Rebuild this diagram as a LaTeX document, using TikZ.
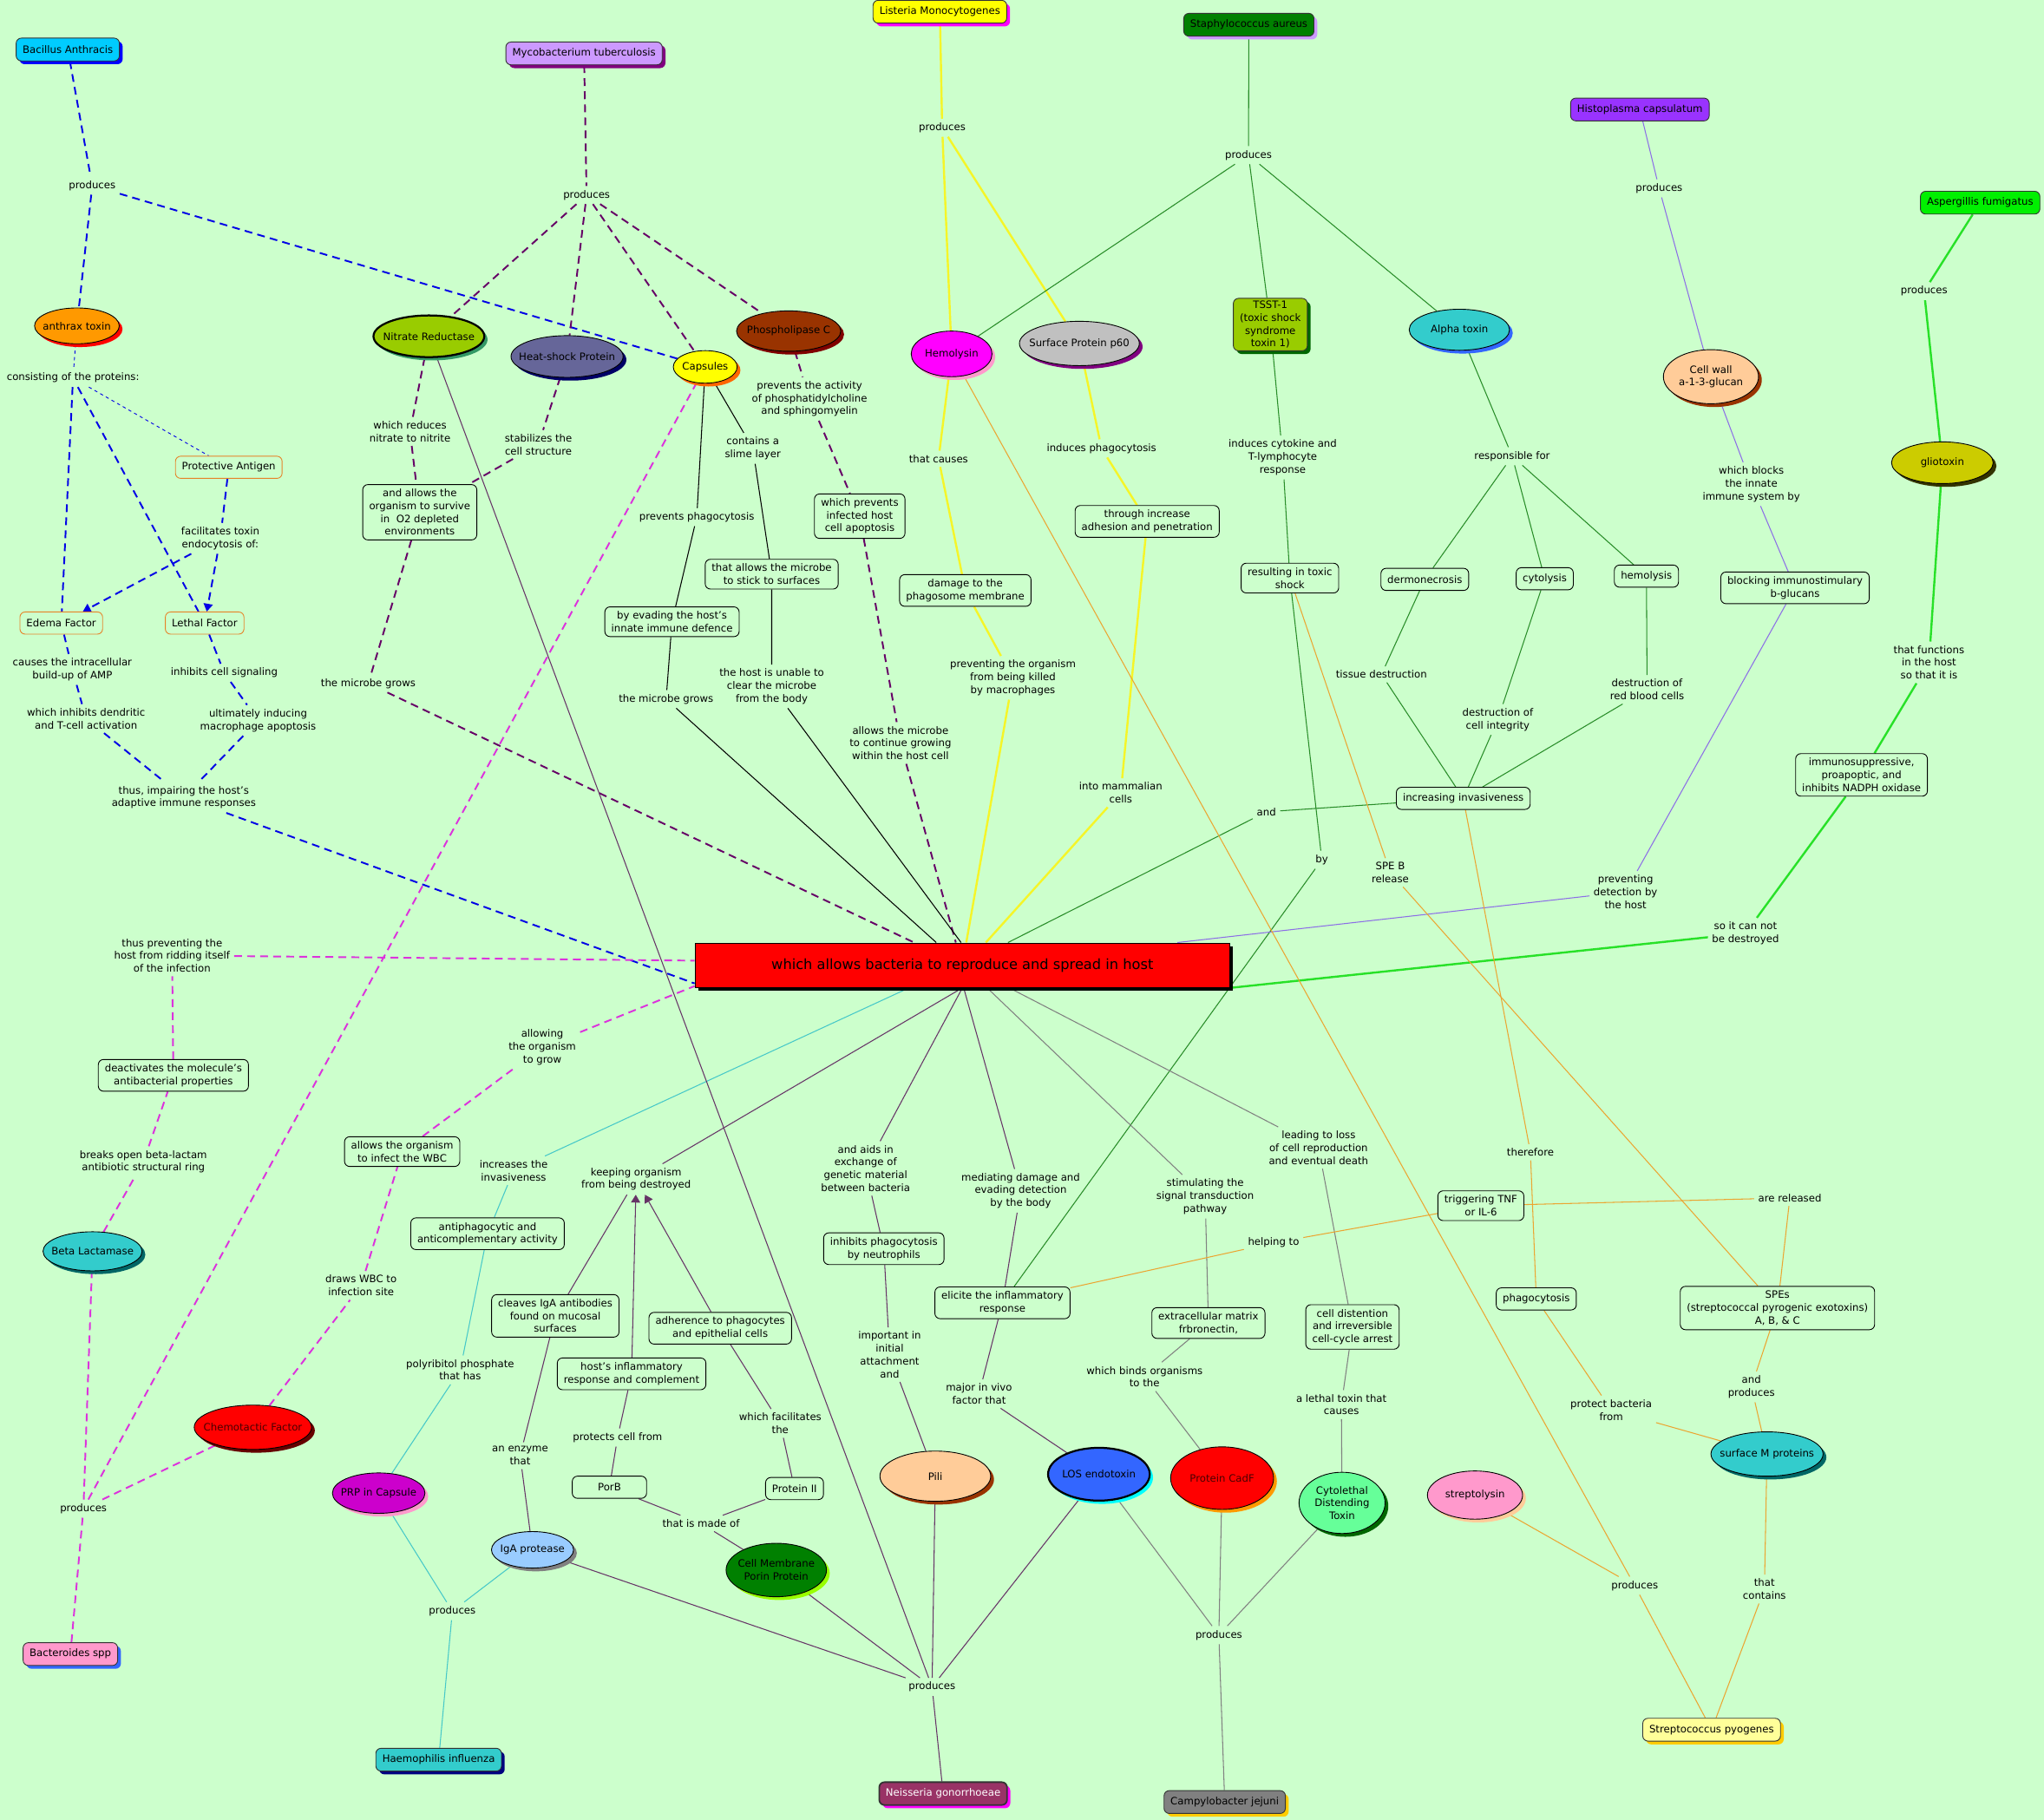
\documentclass[tikz,border=0pt]{standalone}
\usepackage{fontspec}
\setmainfont{DejaVu Sans}
\usetikzlibrary{shapes.geometric, shadows, arrows.meta, calc}

\definecolor{bg}{RGB}{204,255,204}
\definecolor{bacline}{RGB}{0,0,230}
\definecolor{mycline}{RGB}{102,0,102}
\definecolor{bctline}{RGB}{220,50,220}
\definecolor{lisline}{RGB}{245,245,40}
\definecolor{staline}{RGB}{40,140,40}
\definecolor{hisline}{RGB}{140,110,230}
\definecolor{aspline}{RGB}{40,225,40}
\definecolor{strline}{RGB}{235,165,50}
\definecolor{haeline}{RGB}{70,200,200}
\definecolor{neiline}{RGB}{102,51,102}
\definecolor{camline}{RGB}{128,128,128}
\definecolor{orangeedge}{RGB}{230,130,40}
\definecolor{sky}{HTML}{00CCFF}
\definecolor{pureblue}{HTML}{0000FF}
\definecolor{purered}{HTML}{FF0000}
\definecolor{pureyellow}{HTML}{FFFF00}
\definecolor{puremagenta}{HTML}{FF00FF}
\definecolor{purecyan}{HTML}{00FFFF}
\definecolor{puregray}{HTML}{808080}
\definecolor{lilac}{HTML}{CC99FF}
\definecolor{plum}{HTML}{800080}
\definecolor{dkgreen}{HTML}{008000}
\definecolor{violettwo}{HTML}{9933FF}
\definecolor{limetwo}{HTML}{00F000}
\definecolor{pinktwo}{HTML}{FF99CC}
\definecolor{royal}{HTML}{3366FF}
\definecolor{tealtwo}{HTML}{33CCCC}
\definecolor{navy}{HTML}{000080}
\definecolor{wine}{HTML}{993366}
\definecolor{gold}{HTML}{FFCC00}
\definecolor{paleyellow}{HTML}{FFFF99}
\definecolor{orangetwo}{HTML}{FF9900}
\definecolor{yellowgreen}{HTML}{99CC00}
\definecolor{seagreen}{HTML}{339966}
\definecolor{slate}{HTML}{666699}
\definecolor{darknavy}{HTML}{000066}
\definecolor{orangethree}{HTML}{FF6600}
\definecolor{browntwo}{HTML}{993300}
\definecolor{maroon}{HTML}{800000}
\definecolor{silver}{HTML}{C0C0C0}
\definecolor{forest}{HTML}{006600}
\definecolor{peach}{HTML}{FFCC99}
\definecolor{olivetwo}{HTML}{CCCC00}
\definecolor{darkolive}{HTML}{333300}
\definecolor{darkteal}{HTML}{006666}
\definecolor{darkred}{HTML}{660000}
\definecolor{redtext}{HTML}{4A0000}
\definecolor{purpletwo}{HTML}{CC00CC}
\definecolor{lightblue}{HTML}{99CCFF}
\definecolor{chartreuse}{HTML}{99FF00}
\definecolor{mint}{HTML}{66FF99}

\pgfdeclarelayer{background}
\pgfdeclarelayer{edges}
\pgfsetlayers{background,edges,main}

\tikzset{
  shcol/.style={drop shadow={shadow xshift=2.5pt, shadow yshift=-2.5pt, fill=#1, opacity=1}},
  org/.style={rectangle, rounded corners=4pt, draw=black!80, line width=0.6pt,
    inner xsep=5pt, inner ysep=3pt, minimum height=17.5pt, fill=#1},
  oval/.style={ellipse, draw=black, line width=0.6pt, inner xsep=-10pt, inner ysep=0pt,
    align=center, fill=#1},
  lbox/.style={rectangle, rounded corners=4pt, draw=black, line width=0.6pt, fill=bg,
    inner xsep=5pt, inner ysep=3.5pt, minimum height=17pt, align=center},
  obox/.style={lbox, draw=orangeedge},
  lbl/.style={inner sep=3pt, align=center},
  eBac/.style={draw=bacline, line width=1.3pt, dash pattern=on 6pt off 4pt},
  eBacThin/.style={draw=bacline, line width=0.6pt, dash pattern=on 2.5pt off 2.5pt},
  eMyc/.style={draw=mycline, line width=1.3pt, dash pattern=on 6pt off 4pt},
  eBct/.style={draw=bctline, line width=1.3pt, dash pattern=on 6pt off 4pt},
  eCap/.style={draw=black, line width=0.7pt},
  eLis/.style={draw=lisline, line width=1.6pt},
  eSta/.style={draw=staline, line width=0.7pt},
  eHis/.style={draw=hisline, line width=0.7pt},
  eAsp/.style={draw=aspline, line width=1.6pt},
  eStr/.style={draw=strline, line width=0.7pt},
  eHae/.style={draw=haeline, line width=0.7pt},
  eNei/.style={draw=neiline, line width=0.7pt},
  eCam/.style={draw=camline, line width=0.7pt},
  tip/.style={-{Triangle[length=6pt, width=7pt]}}
}

\begin{document}
\begin{tikzpicture}[x=1pt, y=-1pt, every node/.style={font=\fontsize{7.8}{9.8}\selectfont}]
\begin{pgfonlayer}{background}
  \fill[bg] (0,0) rectangle (1568,1396);
\end{pgfonlayer}
\useasboundingbox (0,0) rectangle (1568,1396);

\node[org=sky, shcol=pureblue] (bacillus) at (52,38) {Bacillus Anthracis};
\node[org=lilac, shcol=plum] (myco) at (448,41) {Mycobacterium tuberculosis};
\node[org=pureyellow, shcol=puremagenta] (listeria) at (721,9) {Listeria Monocytogenes};
\node[org=dkgreen, shcol=lilac] (staph) at (958,19) {Staphylococcus aureus};
\node[org=violettwo] (histo) at (1258,84) {Histoplasma capsulatum};
\node[org=limetwo] (asper) at (1519,155.5) {Aspergillis fumigatus};
\node[org=pinktwo, shcol=royal] (bacteroides) at (54,1269) {Bacteroides spp};
\node[org=tealtwo, shcol=navy] (haemo) at (336.5,1350) {Haemophilis influenza};
\node[org=wine, shcol=puremagenta, text=white, line width=1.2pt] (neisseria) at (723.5,1376) {Neisseria gonorrhoeae};
\node[org=puregray, shcol=gold] (campy) at (939.5,1382.5) {Campylobacter jejuni};
\node[org=paleyellow, shcol=gold] (strep) at (1313,1327) {Streptococcus pyogenes};
\node[org=yellowgreen, shcol=forest, align=center, inner ysep=2pt] (tsst) at (974.5,249) {TSST-1\\(toxic shock\\syndrome\\toxin 1)};

\node[oval=orangetwo, shcol=purered, minimum width=65pt, minimum height=27.5pt] (anthrax) at (59,250) {anthrax toxin};
\node[oval=yellowgreen, shcol=seagreen, line width=1.5pt, minimum width=85pt, minimum height=32pt] (nitrate) at (329,258) {Nitrate Reductase};
\node[oval=slate, shcol=darknavy, minimum width=86pt, minimum height=32pt] (heat) at (435,273.5) {Heat-shock Protein};
\node[oval=pureyellow, shcol=orangethree, minimum width=49pt, minimum height=25pt] (capsules) at (541,281.5) {Capsules};
\node[oval=browntwo, shcol=maroon, minimum width=80pt, minimum height=31pt] (phospho) at (605,254) {Phospholipase C};
\node[oval=puremagenta, shcol=pinktwo, minimum width=62pt, minimum height=35pt] (hemolysin) at (730,271.5) {Hemolysin};
\node[oval=silver, shcol=plum, minimum width=92pt, minimum height=34pt] (p60) at (828,263.5) {Surface Protein p60};
\node[oval=tealtwo, shcol=royal, minimum width=77pt, minimum height=31.5pt] (alpha) at (1119.5,253) {Alpha toxin};
\node[oval=peach, shcol=browntwo, minimum width=73pt, minimum height=41.5pt] (cellwall) at (1312.5,289) {Cell wall\\a-1-3-glucan};
\node[oval=olivetwo, shcol=darkolive, minimum width=78pt, minimum height=32pt] (glio) at (1490,355) {gliotoxin};
\node[oval=tealtwo, shcol=darkteal, minimum width=76pt, minimum height=30pt] (betalac) at (71,960) {Beta Lactamase};
\node[oval=purered, shcol=darkred, text=redtext, minimum width=90pt, minimum height=34pt] (chemo) at (194,1095) {Chemotactic Factor};
\node[oval=purpletwo, shcol=pinktwo, minimum width=71pt, minimum height=31pt] (prp) at (290.5,1145.5) {PRP in Capsule};
\node[oval=lightblue, shcol=puregray, minimum width=63pt, minimum height=28pt] (iga) at (408.5,1189) {IgA protease};
\node[oval=dkgreen, shcol=chartreuse, minimum width=77pt, minimum height=41pt] (porin) at (595.5,1204.5) {Cell Membrane\\Porin Protein};
\node[oval=peach, shcol=browntwo, minimum width=85pt, minimum height=38.5pt] (pili) at (717.5,1132.5) {Pili};
\node[oval=royal, shcol=purecyan, line width=1.5pt, minimum width=78pt, minimum height=40.5pt] (los) at (843,1131) {LOS endotoxin};
\node[oval=purered, shcol=orangetwo, text=redtext, minimum width=79pt, minimum height=48pt] (cadf) at (937.5,1134) {Protein CadF};
\node[oval=mint, shcol=forest, minimum width=66pt, minimum height=47pt] (cdt) at (1029.5,1153) {Cytolethal\\Distending\\Toxin};
\node[oval=pinktwo, shcol=peach, minimum width=73pt, minimum height=37pt] (strepto) at (1131.5,1147) {streptolysin};
\node[oval=tealtwo, shcol=darkteal, minimum width=86pt, minimum height=34pt] (mprot) at (1355.5,1115.5) {surface M proteins};

\node[draw=black, fill=purered, shcol=black, line width=0.8pt, minimum width=410pt, minimum height=34pt,
  font=\fontsize{10.8}{12}\selectfont] (goal) at (738.25,740.5) {which allows bacteria to reproduce and spread in host};

\node[obox] (protect) at (175.5,358.5) {Protective Antigen};
\node[obox] (edema) at (47,478) {Edema Factor};
\node[obox] (lethal) at (157,478) {Lethal Factor};

\node[lbox] (allows) at (322,393) {and allows the\\organism to survive\\in\ \ O2 depleted\\environments};
\node[lbox] (evading) at (515.5,477) {by evading the host's\\innate immune defence};
\node[lbox] (stick) at (592,440.5) {that allows the microbe\\to stick to surfaces};
\node[lbox] (apopt) at (659.5,396) {which prevents\\infected host\\cell apoptosis};
\node[lbox] (damage) at (740.5,453) {damage to the\\phagosome membrane};
\node[lbox] (adhesion) at (880,400) {through increase\\adhesion and penetration};
\node[lbox] (toxshock) at (989.5,443.5) {resulting in toxic\\shock};
\node[lbox] (dermo) at (1093,444.5) {dermonecrosis};
\node[lbox] (cytol) at (1185,444) {cytolysis};
\node[lbox] (hemol) at (1263,442) {hemolysis};
\node[lbox] (blocking) at (1377,451) {blocking immunostimulary\\b-glucans};
\node[lbox] (invas) at (1122.5,612.5) {increasing invasiveness};
\node[lbox] (immuno) at (1428,594.5) {immunosuppressive,\\proapoptic, and\\inhibits NADPH oxidase};
\node[lbox] (deact) at (133,825) {deactivates the molecule's\\antibacterial properties};
\node[lbox] (infwbc) at (308.5,883.5) {allows the organism\\to infect the WBC};
\node[lbox] (antiphago) at (374,946.5) {antiphagocytic and\\anticomplementary activity};
\node[lbox] (cleaves) at (426,1009.5) {cleaves IgA antibodies\\found on mucosal\\surfaces};
\node[lbox] (hostinfl) at (484.5,1054) {host's inflammatory\\response and complement};
\node[lbox] (adher) at (552.5,1019) {adherence to phagocytes\\and epithelial cells};
\node[lbox, minimum width=57pt] (porb) at (467.5,1141) {PorB};
\node[lbox] (prot2) at (609.5,1142) {Protein II};
\node[lbox] (inhibneut) at (678,958) {inhibits phagocytosis\\by neutrophils};
\node[lbox] (elicite) at (769,999.5) {elicite the inflammatory\\response};
\node[lbox] (ecm) at (927,1015) {extracellular matrix\\frbronectin,};
\node[lbox] (distent) at (1037.5,1018) {cell distention\\and irreversible\\cell-cycle arrest};
\node[lbox] (tnf) at (1136,925) {triggering TNF\\or IL-6};
\node[lbox] (phago) at (1178.5,996.5) {phagocytosis};
\node[lbox] (spes) at (1363.5,1003.5) {SPEs\\(streptococcal pyrogenic exotoxins)\\A, B, \& C};

\foreach \nm/\x/\y in {bacProd/70.75/142.4, mycProd/450/149.6, lisProd/722.75/98,
    staProd/957.75/119, hisProd/1272.75/144.5, aspProd/1476/223.4, bctProd/64/1157.4,
    haeProd/347/1236, neiProd/715/1294.2, camProd/935/1254.4, strProd/1254/1216.5}
  \node[lbl] (\nm) at (\x,\y) {produces};

\node[lbl] (consist) at (56,290) {consisting of the proteins:};
\node[lbl] (facil) at (169,413) {facilitates toxin\\endocytosis of:};
\node[lbl] (causes) at (55.5,513.6) {causes the intracellular\\build-up of AMP};
\node[lbl] (inhibsig) at (172,516.2) {inhibits cell signaling};
\node[lbl] (dendr) at (66,551.3) {which inhibits dendritic\\and T-cell activation};
\node[lbl] (ultim) at (198,552.7) {ultimately inducing\\macrophage apoptosis};
\node[lbl] (impair) at (141,611.8) {thus, impairing the host's\\adaptive immune responses};
\node[lbl] (reduces) at (314.5,331) {which reduces\\nitrate to nitrite};
\node[lbl] (stabil) at (413,341) {stabilizes the\\cell structure};
\node[lbl] (growsL) at (282.5,524.3) {the microbe grows};
\node[lbl] (actv) at (621,306) {prevents the activity\\of phosphatidylcholine\\and sphingomyelin};
\node[lbl] (slime) at (577.5,344) {contains a\\slime layer};
\node[lbl] (prevph) at (534.5,396.7) {prevents phagocytosis};
\node[lbl] (growsC) at (511,536.4) {the microbe grows};
\node[lbl] (unable) at (592,526.6) {the host is unable to\\clear the microbe\\from the body};
\node[lbl] (contin) at (690.75,570) {allows the microbe\\to continue growing\\within the host cell};
\node[lbl] (tcauses) at (720,352) {that causes};
\node[lbl] (prevkill) at (777,520) {preventing the organism\\from being killed\\by macrophages};
\node[lbl] (induph) at (845,344) {induces phagocytosis};
\node[lbl] (mammal) at (859.75,608.2) {into mammalian\\cells};
\node[lbl] (cytok) at (984,351) {induces cytokine and\\T-lymphocyte\\response};
\node[lbl] (respfor) at (1160,350) {responsible for};
\node[lbl] (tissue) at (1059.75,517.4) {tissue destruction};
\node[lbl] (integ) at (1149,552) {destruction of\\cell integrity};
\node[lbl] (rbc) at (1263.5,529) {destruction of\\red blood cells};
\node[lbl] (andlbl) at (971.5,622.8) {and};
\node[lbl] (bylbl) at (1014,659.6) {by};
\node[lbl] (speb) at (1066.5,669.4) {SPE B\\release};
\node[lbl] (blocks) at (1343.5,371.5) {which blocks\\the innate\\immune system by};
\node[lbl] (prevdet) at (1247,684.2) {preventing\\detection by\\the host};
\node[lbl] (functs) at (1479.75,508.2) {that functions\\in the host\\so that it is};
\node[lbl] (notdestr) at (1339,716) {so it can not\\be destroyed};
\node[lbl] (ridding) at (132,733) {thus preventing the\\host from ridding itself\\of the infection};
\node[lbl] (breaks) at (110,891.3) {breaks open beta-lactam\\antibiotic structural ring};
\node[lbl] (allowgrow) at (416,803.5) {allowing\\the organism\\to grow};
\node[lbl] (draws) at (277,986.2) {draws WBC to\\infection site};
\node[lbl] (increases) at (394,898) {increases the\\invasiveness};
\node[lbl] (keeping) at (488,904.7) {keeping organism\\from being destroyed};
\node[lbl] (andaids) at (664,896.4) {and aids in\\exchange of\\genetic material\\between bacteria};
\node[lbl] (mediat) at (783,913.6) {mediating damage and\\evading detection\\by the body};
\node[lbl] (stimul) at (924.5,918) {stimulating the\\signal transduction\\pathway};
\node[lbl] (leadloss) at (1011.5,880.6) {leading to loss\\of cell reproduction\\and eventual death};
\node[lbl] (therefore) at (1174,884) {therefore};
\node[lbl] (released) at (1373,919) {are released};
\node[lbl] (helping) at (977,953.5) {helping to};
\node[lbl] (polyrib) at (353,1051) {polyribitol phosphate\\that has};
\node[lbl] (enzyme) at (399,1116.8) {an enzyme\\that};
\node[lbl] (protects) at (473.75,1102.8) {protects cell from};
\node[lbl] (facilthe) at (598.5,1092) {which facilitates\\the};
\node[lbl] (madeof) at (537.75,1168.7) {that is made of};
\node[lbl] (attach) at (682.5,1039.3) {important in\\initial\\attachment\\and};
\node[lbl] (vivo) at (751,1069.3) {major in vivo\\factor that};
\node[lbl] (binds) at (878,1056.2) {which binds organisms\\to the};
\node[lbl] (lethaltox) at (1029,1077.6) {a lethal toxin that\\causes};
\node[lbl] (protfrom) at (1236,1081.7) {protect bacteria\\from};
\node[lbl] (andprod) at (1343.5,1063.9) {and\\produces};
\node[lbl] (contains) at (1353.5,1219.1) {that\\contains};

\begin{pgfonlayer}{edges}
\draw[eBac] (bacillus) -- (bacProd) -- (anthrax);
\draw[eBac] (bacProd) -- (capsules);
\draw[eBacThin] (anthrax) -- (consist);
\draw[eBacThin] (consist) -- (protect);
\draw[eBac] (consist) -- (edema);
\draw[eBac] (consist) -- (lethal);
\draw[eBac] (protect) -- (facil);
\draw[eBac, tip] (facil) -- (edema);
\draw[eBac, tip] (facil) -- (lethal);
\draw[eBac] (edema) -- (causes) -- (dendr) -- (impair);
\draw[eBac] (lethal) -- (inhibsig) -- (ultim) -- (impair);
\draw[eBac] (impair) -- ([yshift=-14pt]goal.west);

\draw[eMyc] (myco) -- (mycProd);
\draw[eMyc] (mycProd) -- (nitrate);
\draw[eMyc] (mycProd) -- (heat);
\draw[eMyc] (mycProd) -- (capsules);
\draw[eMyc] (mycProd) -- (phospho);
\draw[eMyc] (nitrate) -- (reduces) -- (allows);
\draw[eMyc] (heat) -- (stabil) -- (allows);
\draw[eMyc] (allows) -- (growsL) -- ([xshift=-37pt]goal.north);
\draw[eMyc] (phospho) -- (actv) -- (apopt) -- (contin) -- ([xshift=-5pt]goal.north);

\draw[eCap] (capsules) -- (prevph) -- (evading) -- (growsC) -- ([xshift=-20pt]goal.north);
\draw[eCap] (capsules) -- (slime) -- (stick) -- (unable) -- ([xshift=-1pt]goal.north);

\draw[eLis] (listeria) -- (lisProd) -- (hemolysin);
\draw[eLis] (lisProd) -- (p60);
\draw[eLis] (hemolysin) -- (tcauses) -- (damage) -- (prevkill) -- ([xshift=3pt]goal.north);
\draw[eLis] (p60) -- (induph) -- (adhesion) -- (mammal) -- ([xshift=18pt]goal.north);

\draw[eSta] (staph) -- (staProd) -- (tsst);
\draw[eSta] (staProd) -- (hemolysin);
\draw[eSta] (staProd) -- (alpha);
\draw[eSta] (tsst) -- (cytok) -- (toxshock) -- (bylbl) -- (elicite);
\draw[eSta] (alpha) -- (respfor) -- (dermo) -- (tissue) -- (invas);
\draw[eSta] (respfor) -- (cytol) -- (integ) -- (invas);
\draw[eSta] (respfor) -- (hemol) -- (rbc) -- (invas);
\draw[eSta] (invas) -- (andlbl) -- ([xshift=35pt]goal.north);

\draw[eHis] (histo) -- (hisProd) -- (cellwall) -- (blocks) -- (blocking) -- (prevdet) -- ([xshift=165pt]goal.north);

\draw[eAsp] (asper) -- (aspProd) -- (glio) -- (functs) -- (immuno) -- (notdestr) -- (goal.south east);

\draw[eBct] (bacteroides) -- (bctProd) -- (betalac);
\draw[eBct] (bctProd) -- (capsules);
\draw[eBct] (bctProd) -- (chemo);
\draw[eBct] (betalac) -- (breaks) -- (deact) -- (ridding) -- ([yshift=3.5pt]goal.west);
\draw[eBct] (chemo) -- (draws) -- (infwbc) -- (allowgrow) -- ([yshift=-16pt]goal.west);

\draw[eHae] (haemo) -- (haeProd) -- (prp);
\draw[eHae] (haeProd) -- (iga);
\draw[eHae] (prp) -- (polyrib) -- (antiphago) -- (increases) -- ([xshift=-41pt]goal.south);

\draw[eNei] (neisseria) -- (neiProd) -- (iga);
\draw[eNei] (neiProd) -- (porin);
\draw[eNei] (neiProd) -- (nitrate);
\draw[eNei] (neiProd) -- (pili);
\draw[eNei] (neiProd) -- (los);
\draw[eNei] (iga) -- (enzyme) -- (cleaves) -- (keeping);
\draw[eNei] (porin) -- (madeof) -- (porb);
\draw[eNei] (madeof) -- (prot2);
\draw[eNei] (porb) -- (protects) -- (hostinfl);
\draw[eNei] (prot2) -- (facilthe) -- (adher);
\draw[eNei, tip] (hostinfl) -- (keeping);
\draw[eNei, tip] (adher) -- (keeping);
\draw[eNei] (keeping) -- (goal.south);
\draw[eNei] (pili) -- (attach) -- (inhibneut) -- (andaids) -- (goal.south);
\draw[eNei] (los) -- (vivo) -- (elicite) -- (mediat) -- ([xshift=1pt]goal.south);

\draw[eCam] (campy) -- (camProd) -- (los);
\draw[eCam] (camProd) -- (cadf);
\draw[eCam] (camProd) -- (cdt);
\draw[eCam] (cadf) -- (binds) -- (ecm) -- (stimul) -- ([xshift=19pt]goal.south);
\draw[eCam] (cdt) -- (lethaltox) -- (distent) -- (leadloss) -- ([xshift=36pt]goal.south);

\draw[eStr] (strep) -- (strProd) -- (strepto);
\draw[eStr] (strProd) -- (hemolysin);
\draw[eStr] (strep) -- (contains) -- (mprot) -- (andprod) -- (spes);
\draw[eStr] (mprot) -- (protfrom) -- (phago) -- (therefore) -- (invas);
\draw[eStr] (spes) -- (released) -- (tnf) -- (helping) -- (elicite);
\draw[eStr] (spes) -- (speb) -- (toxshock);
\end{pgfonlayer}
\end{tikzpicture}
\end{document}
